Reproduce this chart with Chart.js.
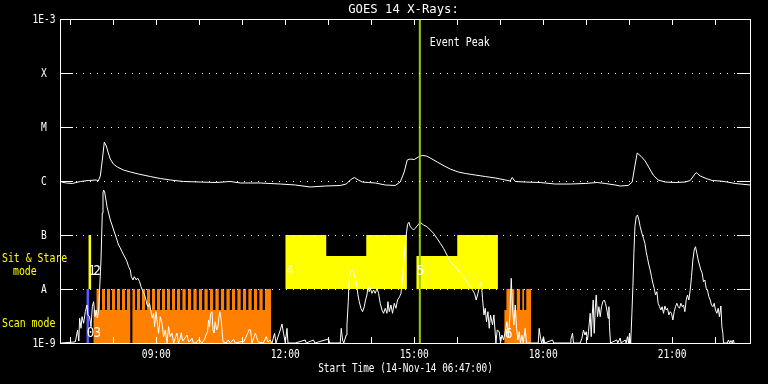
<!DOCTYPE html>
<html>
<head>
<meta charset="utf-8">
<script src="https://cdn.jsdelivr.net/npm/chart.js@4.4.1/dist/chart.umd.min.js"></script>
<style>
html, body { margin: 0; padding: 0; background: #000; }
canvas { display: block; }
</style>
</head>
<body>
<canvas id="goesChart" width="768" height="384"></canvas>
<script>
// times in decimal hours (UT, 14-Nov-14), fluxes as log10(W/m^2)
const startTime = 6 + 47 / 60;
const endTime = 22.81;
const eventPeak = 15.13;

const levelValues = [1e-9, 1e-8, 1e-7, 1e-6, 1e-5, 1e-4, 1e-3];
const levelLabels = ['1E-9', 'A', 'B', 'C', 'M', 'X', '1E-3'];
const hourTicks = [7, 8, 9, 10, 11, 12, 13, 14, 15, 16, 17, 18, 19, 20, 21, 22];
const hourLabels = ['09:00', '12:00', '15:00', '18:00', '21:00'];

// 1-8 A channel
const hiTime = [6.791,6.907,7.047,7.233,7.419,7.605,7.651,7.698,7.744,7.791,7.837,7.884,7.930,8.0,8.093,8.233,8.395,8.581,8.860,9.093,
  9.326,9.628,10.023,10.395,10.721,10.953,11.419,11.884,12.233,12.581,12.930,13.279,13.419,13.512,13.605,13.698,13.791,13.930,14.093,14.326,
  14.558,14.674,14.767,14.837,14.907,15.0,15.093,15.186,15.279,15.372,15.535,15.698,15.837,16.023,16.186,16.419,16.651,16.884,17.116,17.233,
  17.279,17.349,17.581,17.930,18.279,18.628,18.977,19.256,19.442,19.674,19.791,19.977,20.070,20.116,20.186,20.279,20.372,20.465,20.558,20.674,
  20.837,21.070,21.302,21.419,21.512,21.558,21.651,21.791,21.930,22.116,22.279,22.465,22.814];
const hiLog = [-6.019,-6.037,-6.046,-6.009,-5.991,-5.981,-6.0,-5.907,-5.611,-5.278,-5.352,-5.481,-5.593,-5.685,-5.741,-5.796,-5.833,-5.870,-5.917,-5.954,
  -5.981,-6.009,-6.019,-6.028,-6.009,-6.037,-6.037,-6.056,-6.074,-6.111,-6.093,-6.083,-6.056,-5.981,-5.935,-5.981,-6.019,-6.028,-6.037,-6.074,
  -6.083,-6.019,-5.833,-5.611,-5.593,-5.602,-5.556,-5.528,-5.537,-5.574,-5.648,-5.722,-5.778,-5.833,-5.861,-5.889,-5.917,-5.944,-5.981,-6.0,
  -5.935,-6.009,-6.019,-6.028,-6.056,-6.056,-6.046,-6.028,-6.046,-6.074,-6.093,-6.083,-6.019,-5.796,-5.481,-5.546,-5.630,-5.759,-5.889,-5.981,
  -6.019,-6.028,-6.019,-5.991,-5.889,-5.843,-5.907,-5.954,-5.991,-6.0,-6.019,-6.046,-6.074];

// 0.5-4 A channel
const loTime = [6.791,7.116,7.170,7.198,7.216,7.249,7.272,7.309,7.349,7.388,7.407,7.449,7.481,7.512,7.542,7.574,7.605,7.628,7.658,7.681,
  7.714,7.744,7.760,7.774,7.798,7.830,7.853,7.891,7.930,7.970,8.007,8.047,8.086,8.123,8.163,8.202,8.240,8.279,8.319,8.356,
  8.395,8.419,8.458,8.488,8.535,8.565,8.612,8.644,8.691,8.728,8.760,8.784,8.814,8.844,8.877,8.907,8.937,8.960,8.993,9.016,
  9.053,9.093,9.133,9.170,9.209,9.249,9.286,9.326,9.365,9.402,9.442,9.481,9.512,9.547,9.581,9.612,9.651,9.714,9.751,9.791,
  9.830,9.860,9.930,9.970,10.0,10.063,10.123,10.156,10.193,10.216,10.240,10.263,10.295,10.319,10.342,10.372,10.402,10.435,10.458,10.481,
  10.505,10.528,10.551,10.628,10.674,10.721,10.798,10.837,11.047,11.163,11.193,11.226,11.302,11.333,11.365,11.488,11.558,11.598,11.651,11.691,
  11.751,11.784,11.884,11.923,11.960,12.0,12.040,12.063,12.233,12.465,12.488,12.658,12.686,13.007,13.035,13.279,13.302,13.333,13.360,13.419,
  13.435,13.465,13.488,13.512,13.551,13.588,13.628,13.667,13.691,13.721,13.760,13.798,13.837,13.867,13.900,13.923,13.953,13.977,14.016,14.053,
  14.093,14.133,14.170,14.209,14.249,14.286,14.326,14.365,14.388,14.419,14.458,14.495,14.535,14.574,14.612,14.658,14.691,14.721,14.751,14.784,
  14.814,14.844,14.877,14.907,14.947,14.984,15.023,15.086,15.140,15.216,15.295,15.372,15.449,15.528,15.605,15.681,15.760,15.837,15.914,15.993,
  16.070,16.147,16.226,16.302,16.356,16.402,16.442,16.481,16.519,16.558,16.588,16.621,16.651,16.681,16.714,16.744,16.774,16.821,16.853,16.900,
  16.930,16.977,17.007,17.040,17.077,17.116,17.156,17.193,17.226,17.256,17.286,17.319,17.349,17.379,17.412,17.442,17.472,17.505,17.535,17.581,
  17.612,17.884,17.907,17.937,17.965,18.007,18.035,18.216,18.244,18.628,18.644,18.681,18.705,18.860,18.900,18.937,18.970,19.0,19.030,19.053,
  19.093,19.116,19.140,19.163,19.186,19.209,19.233,19.263,19.295,19.326,19.356,19.388,19.419,19.449,19.481,19.512,19.528,19.542,19.565,19.714,
  19.733,19.791,19.814,19.907,19.930,19.960,19.984,20.007,20.035,20.063,20.086,20.109,20.133,20.163,20.193,20.226,20.256,20.295,20.333,20.365,
  20.395,20.426,20.458,20.488,20.519,20.551,20.581,20.612,20.644,20.674,20.705,20.737,20.767,20.798,20.830,20.860,20.891,20.923,20.953,20.984,
  21.016,21.047,21.077,21.109,21.140,21.170,21.202,21.233,21.263,21.295,21.326,21.356,21.388,21.419,21.449,21.481,21.512,21.542,21.574,21.605,
  21.635,21.667,21.698,21.728,21.760,21.791,21.821,21.853,21.884,21.914,21.947,21.977,22.007,22.040,22.070,22.100,22.133,22.156,22.179,22.193,
  22.279,22.309,22.337,22.365,22.395,22.419,22.442];
const loLog = [-9.0,-8.98,-8.759,-8.963,-8.543,-8.728,-8.513,-8.635,-8.420,-8.296,-8.481,-8.513,-8.698,-8.328,-8.235,-8.513,-8.389,-8.537,-8.389,-8.019,
  -7.463,-6.593,-6.222,-6.167,-6.204,-6.352,-6.476,-6.593,-6.722,-6.815,-6.907,-7.0,-7.093,-7.185,-7.241,-7.309,-7.370,-7.426,-7.494,-7.587,
  -7.648,-7.772,-7.833,-7.772,-7.833,-7.796,-7.865,-7.957,-8.050,-8.111,-8.204,-8.296,-8.328,-8.265,-8.420,-8.537,-8.450,-8.698,-8.420,-8.574,
  -8.820,-8.513,-8.635,-8.883,-8.759,-9.0,-8.698,-8.883,-8.815,-9.0,-8.907,-8.815,-9.0,-8.944,-8.809,-8.963,-8.926,-8.852,-8.976,-8.963,
  -8.907,-9.0,-9.0,-8.944,-8.944,-9.0,-8.932,-8.852,-8.791,-8.574,-8.698,-8.450,-8.420,-8.759,-8.815,-8.606,-8.759,-8.698,-8.513,-8.420,
  -8.543,-8.759,-8.976,-9.0,-8.944,-9.0,-8.932,-9.0,-8.963,-8.747,-8.759,-9.0,-8.820,-8.883,-8.98,-9.0,-8.883,-8.98,-8.944,-9.0,
  -8.820,-9.0,-8.759,-8.648,-8.820,-9.0,-8.728,-9.0,-9.0,-8.944,-9.0,-8.944,-9.0,-8.926,-9.0,-9.0,-8.728,-8.944,-9.0,-8.852,
  -8.667,-8.235,-7.802,-7.680,-7.648,-7.680,-7.802,-7.957,-8.111,-8.235,-8.357,-8.420,-8.328,-8.204,-8.111,-7.957,-8.050,-7.987,-8.080,-8.019,
  -8.080,-7.987,-8.080,-8.265,-8.389,-8.450,-8.357,-8.450,-8.235,-8.420,-8.296,-8.450,-8.265,-8.357,-8.204,-8.143,-8.080,-7.865,-7.556,-7.246,
  -7.0,-6.802,-6.765,-6.846,-6.876,-6.907,-6.876,-6.815,-6.765,-6.815,-6.846,-6.907,-6.969,-7.061,-7.154,-7.246,-7.370,-7.494,-7.556,-7.617,
  -7.709,-7.772,-7.865,-7.957,-8.019,-8.080,-8.204,-8.080,-7.957,-7.865,-8.172,-8.481,-8.357,-8.606,-8.420,-8.728,-8.481,-8.667,-8.481,-9.0,
  -8.759,-8.791,-9.0,-8.852,-8.944,-8.791,-8.606,-8.889,-8.481,-7.802,-8.357,-8.667,-8.296,-8.728,-8.944,-8.791,-9.0,-8.852,-9.0,-8.728,
  -9.0,-9.0,-8.728,-8.907,-9.0,-8.883,-9.0,-8.944,-9.0,-9.0,-8.932,-8.820,-9.0,-9.0,-8.913,-8.759,-8.852,-8.791,-8.944,-8.791,
  -8.450,-8.883,-8.481,-8.204,-8.820,-8.389,-8.111,-8.513,-8.328,-8.513,-8.328,-8.235,-8.204,-8.265,-8.389,-8.543,-8.328,-8.698,-9.0,-8.944,
  -9.0,-8.907,-9.0,-8.944,-9.0,-8.883,-9.0,-8.820,-9.0,-8.450,-7.957,-7.339,-6.846,-6.661,-6.630,-6.722,-6.846,-6.969,-7.061,-7.154,
  -7.309,-7.432,-7.556,-7.648,-7.772,-7.894,-7.987,-8.111,-8.050,-8.265,-8.328,-8.389,-8.328,-8.450,-8.315,-8.389,-8.357,-8.481,-8.420,-8.450,
  -8.574,-8.420,-8.328,-8.265,-8.328,-8.357,-8.265,-8.328,-8.296,-8.420,-8.204,-8.111,-8.204,-8.019,-7.772,-7.463,-7.278,-7.217,-7.339,-7.463,
  -7.556,-7.648,-7.709,-7.865,-7.833,-7.987,-8.019,-8.143,-8.204,-8.296,-8.328,-8.265,-8.389,-8.450,-8.357,-8.513,-8.315,-8.698,-8.820,-9.0,
  -9.0,-8.944,-9.0,-8.954,-9.0,-8.944,-9.0];

// sit & stare rasters, drawn up from the A level
const ssStart = [7.419, 12.0, 12.953, 13.884, 15.047, 16.0];
const ssEnd = [7.488, 12.953, 13.884, 14.83, 16.0, 16.947];
const ssTop = [1e-7, 1e-7, 4.1e-8, 1e-7, 4.1e-8, 1e-7];

// scan mode: continuous lower band, upper band broken into rasters
const scanStart = [7.535, 8.44, 17.093];
const scanEnd = [8.40, 11.674, 17.721];
const rasterFrom = [7.605, 17.14];
const rasterTo = [11.674, 17.721];
const rasterGaps = [7.714, 7.830, 7.947, 8.063, 8.179, 8.295, 8.419, 8.528, 8.644, 8.760, 8.877, 8.993, 9.109, 9.226, 9.342, 9.458,
  9.581, 9.709, 9.837, 9.965, 10.093, 10.221, 10.349, 10.477, 10.605, 10.733, 10.860, 10.988, 11.116, 11.244, 11.372, 11.500,
  17.356, 17.488, 17.581];

// the short blue block before the first sit & stare
const otherStart = [7.372];
const otherEnd = [7.442];

const ORANGE = '#ff8000', YELLOW = '#ffff00', BLUE = '#5a5aff', GREEN = '#99cc00';

function series(ts, vs) {
    return ts.map(function (t, i) { return { x: t, y: Math.pow(10, vs[i]) }; });
}

function box(t0, t1, lo, hi, color) {
    return {
        data: [{ x: t0, y: hi }, { x: t1, y: hi }],
        borderWidth: 0,
        pointRadius: 0,
        backgroundColor: color,
        fill: { value: lo }
    };
}

var datasets = [
    { data: [{ x: eventPeak, y: 1e-9 }, { x: eventPeak, y: 1e-3 }], borderColor: GREEN, borderWidth: 2, pointRadius: 0, fill: false },
    { data: series(hiTime, hiLog), borderColor: '#fff', borderWidth: 1, pointRadius: 0, fill: false },
    { data: series(loTime, loLog), borderColor: '#fff', borderWidth: 1, pointRadius: 0, fill: false }
];

otherStart.forEach(function (t, i) { datasets.push(box(t, otherEnd[i], 1e-9, 1e-8, BLUE)); });

// contiguous sit & stare rasters become one stepped outline, so no seams show
var ssGroups = [];
ssStart.forEach(function (t, i) {
    var g = ssGroups[ssGroups.length - 1];
    if (!g || Math.abs(g.end - t) > 1e-6) {
        g = { pts: [], end: 0, top: 0 };
        ssGroups.push(g);
    }
    g.pts.push({ x: t, y: ssTop[i] });
    g.end = ssEnd[i];
    g.top = ssTop[i];
});
ssGroups.forEach(function (g) {
    datasets.push({
        data: g.pts.concat([{ x: g.end, y: g.top }]),
        stepped: 'before',
        borderWidth: 0,
        pointRadius: 0,
        backgroundColor: YELLOW,
        fill: { value: 1e-8 }
    });
});

scanStart.forEach(function (t, i) { datasets.push(box(t, scanEnd[i], 1e-9, 4.1e-9, ORANGE)); });
rasterFrom.forEach(function (t0, b) {
    var t1 = rasterTo[b], s = t0;
    rasterGaps.filter(function (g) { return g > t0 && g < t1; }).forEach(function (g) {
        datasets.push(box(s, g - 0.022, 4.1e-9, 1e-8, ORANGE));
        s = g + 0.022;
    });
    datasets.push(box(s, t1, 4.1e-9, 1e-8, ORANGE));
});

function label(ctx, s, x, y, opt) {
    var size = opt.size || 12, sx = opt.sx || 0.8;
    ctx.save();
    ctx.font = size + 'px "DejaVu Sans Mono"';
    ctx.fillStyle = opt.color || '#fff';
    ctx.textBaseline = 'middle';
    ctx.textAlign = 'left';
    var w = ctx.measureText(s).width * sx;
    var x0 = opt.align === 'center' ? x - w / 2 : (opt.align === 'right' ? x - w : x);
    ctx.translate(x0, y);
    ctx.scale(sx, 1);
    ctx.fillText(s, 0, 0);
    ctx.restore();
}

var idlFrame = {
    id: 'idlFrame',
    beforeDraw: function (chart) {
        var ctx = chart.ctx;
        ctx.save();
        ctx.fillStyle = '#000';
        ctx.fillRect(0, 0, chart.width, chart.height);
        ctx.restore();
    },
    afterDatasetsDraw: function (chart) {
        var ctx = chart.ctx, ca = chart.chartArea;
        var xs = chart.scales.x, ys = chart.scales.y;
        ctx.save();
        ctx.strokeStyle = '#fff';
        ctx.lineWidth = 1;
        // dotted level lines and solid end ticks
        levelValues.slice(1, -1).forEach(function (v) {
            var y = Math.round(ys.getPixelForValue(v)) + 0.5;
            ctx.setLineDash([1, 6]);
            ctx.beginPath();
            ctx.moveTo(ca.left + 15, y);
            ctx.lineTo(ca.right - 13, y);
            ctx.stroke();
            ctx.setLineDash([]);
            ctx.beginPath();
            ctx.moveTo(ca.left, y); ctx.lineTo(ca.left + 12, y);
            ctx.moveTo(ca.right - 13, y); ctx.lineTo(ca.right, y);
            ctx.stroke();
        });
        // hour ticks
        hourTicks.forEach(function (h) {
            var x = Math.round(xs.getPixelForValue(h)) + 0.5;
            ctx.beginPath();
            ctx.moveTo(x, ca.top); ctx.lineTo(x, ca.top + 6);
            ctx.moveTo(x, ca.bottom); ctx.lineTo(x, ca.bottom - 6);
            ctx.stroke();
        });
        ctx.strokeRect(ca.left - 0.5, ca.top + 0.5, ca.right - ca.left + 1, ca.bottom - ca.top);
        ctx.restore();
    },
    afterDraw: function (chart) {
        var ctx = chart.ctx, ca = chart.chartArea;
        var xs = chart.scales.x, ys = chart.scales.y;
        var mid = (ca.left + ca.right) / 2;
        label(ctx, 'GOES 14 X-Rays:', mid - 2, 10, { align: 'center', size: 12, sx: 1.02 });
        levelValues.forEach(function (v, i) {
            label(ctx, levelLabels[i], ca.left - 17, ys.getPixelForValue(v) + 1, { align: 'center' });
        });
        hourLabels.forEach(function (s) {
            var h = parseInt(s, 10);
            label(ctx, s, xs.getPixelForValue(h), ca.bottom + 12, { align: 'center' });
        });
        label(ctx, 'Start Time (14-Nov-14 06:47:00)', mid, ca.bottom + 26, { align: 'center', sx: 0.78 });
        label(ctx, 'Sit & Stare', 2, 259, { color: YELLOW, sx: 0.82 });
        label(ctx, 'mode', 13, 272, { color: YELLOW, sx: 0.82 });
        label(ctx, 'Scan mode', 2, 324, { color: YELLOW, sx: 0.82 });
        label(ctx, 'Event Peak', xs.getPixelForValue(eventPeak) + 10, 43, { sx: 0.83 });
        // raster numbers
        var nums = [['1', 7.415, 2.1e-8], ['2', 7.535, 2.1e-8], ['0', 7.385, 1.5e-9], ['3', 7.54, 1.5e-9],
                    ['4', 12.02, 2.1e-8], ['5', 15.06, 2.1e-8], ['6', 17.11, 1.45e-9]];
        nums.forEach(function (n) {
            label(ctx, n[0], xs.getPixelForValue(n[1]), ys.getPixelForValue(n[2]), { size: 14, sx: 0.9 });
        });
    }
};

new Chart(document.getElementById('goesChart').getContext('2d'), {
    type: 'line',
    data: { datasets: datasets },
    options: {
        responsive: false,
        animation: false,
        events: [],
        layout: { padding: { left: 61, right: 18, top: 19, bottom: 41 } },
        elements: { line: { tension: 0 }, point: { radius: 0 } },
        scales: {
            x: { type: 'linear', min: startTime, max: endTime, display: false },
            y: { type: 'logarithmic', min: 1e-9, max: 1e-3, display: false }
        },
        plugins: { legend: { display: false }, tooltip: { enabled: false } }
    },
    plugins: [idlFrame]
});
</script>
</body>
</html>
